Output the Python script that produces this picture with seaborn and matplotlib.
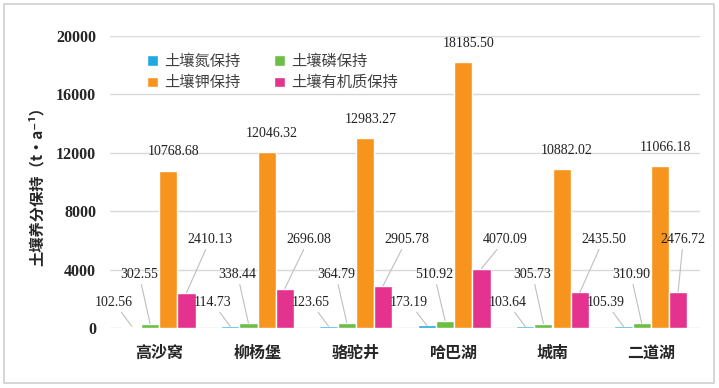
import numpy as np
import pandas as pd
import matplotlib
matplotlib.use("Agg")
import matplotlib.pyplot as plt
import seaborn as sns
from matplotlib.patches import Rectangle

# data
sites = ["高沙窝", "柳杨堡", "骆驼井", "哈巴湖", "城南", "二道湖"]
series = ["土壤氮保持", "土壤磷保持", "土壤钾保持", "土壤有机质保持"]
nitrogen = [102.56, 114.73, 123.65, 173.19, 103.64, 105.39]
phosphorus = [302.55, 338.44, 364.79, 510.92, 305.73, 310.90]
potassium = [10768.68, 12046.32, 12983.27, 18185.50, 10882.02, 11066.18]
organic = [2410.13, 2696.08, 2905.78, 4070.09, 2435.50, 2476.72]
colors = ["#1EA9E1", "#6CBE45", "#F7941D", "#E4338F"]

df = pd.DataFrame({
    "site": sites * 4,
    "series": [s for s in series for _ in sites],
    "value": nitrogen + phosphorus + potassium + organic,
})

sns.set_style("white")
plt.rcParams["font.family"] = ["Noto Sans CJK SC", "DejaVu Sans"]

fig = plt.figure(figsize=(7.19, 3.88), dpi=100)
ax = fig.add_axes([110 / 719, 1 - 328 / 388, 590 / 719, 292 / 388])

sns.barplot(data=df, x="site", y="value", hue="series", hue_order=series,
            palette=colors, width=0.74, saturation=1, ax=ax, legend=True)

ax.set_ylim(0, 20000)
ax.set_xlim(-0.5, 5.5)
ax.set_yticks(range(0, 20001, 4000))
ax.yaxis.grid(True, color="#d9d9d9", linewidth=1)
ax.set_axisbelow(True)
for s in ax.spines.values():
    s.set_visible(False)
ax.tick_params(length=0)
ax.set_xlabel("")
ax.set_ylabel("土壤养分保持（t·a⁻¹）", fontsize=11, fontweight="bold", labelpad=8)
for lab in ax.get_yticklabels():
    lab.set_fontfamily("Liberation Serif")
    lab.set_fontweight("bold")
    lab.set_fontsize(11.5)
for lab in ax.get_xticklabels():
    lab.set_fontweight("bold")
    lab.set_fontsize(11.5)
ax.tick_params(axis="x", pad=12)
ax.tick_params(axis="y", pad=10)

# legend filled row by row
handles, labels = ax.get_legend_handles_labels()
order = [0, 2, 1, 3]
leg = ax.legend([handles[k] for k in order], [labels[k] for k in order],
                loc="upper left", bbox_to_anchor=(0.04, 0.99), ncol=2, frameon=False,
                fontsize=11, handlelength=0.7, handleheight=0.7, handletextpad=0.4,
                columnspacing=2.2, labelspacing=0.3)
for t in leg.get_texts():
    t.set_color("#404040")

# data labels with leader lines
label_y = {0: 1300, 1: 3200, 3: 5600}
label_dx = {0: -0.18, 1: -0.11, 3: 0.24}
lab_font = dict(family="Liberation Serif", fontsize=10, color="#202020")
for i, cont in enumerate(ax.containers):
    for j, bar in enumerate(cont):
        x = bar.get_x() + bar.get_width() / 2
        h = bar.get_height()
        txt = f"{h:.2f}"
        if i == 2:
            ax.annotate(txt, (x, h), xytext=(4, 9), textcoords="offset points",
                        ha="center", va="bottom", **lab_font)
            continue
        lx = min(x + label_dx[i], 5.33)
        ax.annotate(txt, (x, h), xytext=(lx, label_y[i]), textcoords="data",
                    ha="center", va="bottom", annotation_clip=False,
                    arrowprops=dict(arrowstyle="-", color="#bfbfbf", lw=0.8,
                                    shrinkA=0, shrinkB=0), **lab_font)

fig.patches.append(Rectangle((4 / 719, 5 / 388), 710 / 719, 379 / 388,
                             transform=fig.transFigure, fill=False,
                             edgecolor="#d0d0d0", linewidth=1.2))

fig.savefig("out.png", dpi=100)
